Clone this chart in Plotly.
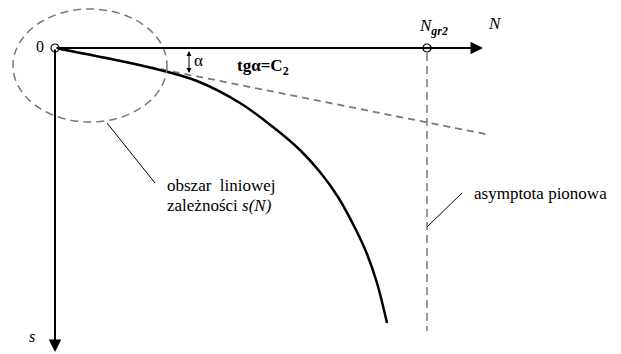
import plotly.graph_objects as go

# ---- data (diagram units; N to the right, s downward) ----
curve_N = [0, 50, 95, 142, 185, 218, 245, 265, 283, 300, 312, 322, 332]
curve_s = [0, 9.8, 19.5, 33, 55, 79, 102, 124, 149, 180, 206, 235, 275]
tangent_N = [0, 432]
tangent_s = [0, 86.4]
N_gr2 = 372
asym_s = [5, 283]
axis_N_end = 428
axis_s_end = 304

FONT = "Liberation Serif, Times New Roman, Times, serif"
GRAY = "#7a7a7a"

fig = go.Figure()

# dashed tangent line tg(alpha)=C2
fig.add_trace(go.Scatter(x=tangent_N, y=tangent_s, mode="lines",
                         line=dict(color=GRAY, width=1.8, dash="7px,5px"),
                         hoverinfo="skip"))
# vertical asymptote
fig.add_trace(go.Scatter(x=[N_gr2, N_gr2], y=asym_s, mode="lines",
                         line=dict(color=GRAY, width=1.5, dash="8px,5px"),
                         hoverinfo="skip"))
# main curve s(N)
fig.add_trace(go.Scatter(x=curve_N, y=curve_s, mode="lines",
                         line=dict(color="black", width=2.5, shape="spline", smoothing=1.0),
                         hoverinfo="skip"))

# dashed ellipse: region of linear dependence
fig.add_shape(type="circle", xref="x", yref="y", x0=-42, x1=112, y0=-39, y1=74,
              line=dict(color=GRAY, width=1.5, dash="8px,5px"))

# leader lines
fig.add_shape(type="line", xref="x", yref="y", x0=52, y0=75, x1=100, y1=135,
              line=dict(color="black", width=1))
fig.add_shape(type="line", xref="x", yref="y", x0=407, y0=145, x1=372, y1=179,
              line=dict(color="black", width=1))

# axes with arrows
fig.add_annotation(x=axis_N_end, y=0, ax=0, ay=0, xref="x", yref="y", axref="x", ayref="y",
                   text="", showarrow=True, arrowhead=2, arrowsize=1.25, arrowwidth=2,
                   arrowcolor="black")
fig.add_annotation(x=0, y=axis_s_end, ax=0, ay=0, xref="x", yref="y", axref="x", ayref="y",
                   text="", showarrow=True, arrowhead=2, arrowsize=1.25, arrowwidth=2,
                   arrowcolor="black")

# alpha arc arrow
fig.add_annotation(x=134, y=25, ax=134, ay=1.5, xref="x", yref="y", axref="x", ayref="y",
                   text="", showarrow=True, arrowhead=2, arrowside="end+start",
                   arrowsize=1, arrowwidth=1, arrowcolor="black")

# open circles at 0 and N_gr2
fig.add_trace(go.Scatter(x=[0, N_gr2], y=[0, 0], mode="markers",
                         marker=dict(size=8, color="white", line=dict(color="black", width=1.2)),
                         hoverinfo="skip"))

# labels
def label(x, y, text, size=17, xanchor="center"):
    fig.add_annotation(x=x, y=y, xref="x", yref="y", text=text, showarrow=False,
                       xanchor=xanchor, yanchor="middle",
                       font=dict(family=FONT, size=size, color="black"))

label(-15, -2, "0", 16)
label(440, -25, "<i>N</i>", 17)
label(362, -21, "<i>N</i><sub><b><i>gr2</i></b></sub>", 17, xanchor="left")
label(-23, 288, "<i>s</i>", 16)
label(143, 12, "α", 17)
label(180, 19, "<b>tgα=C<sub>2</sub></b>", 17, xanchor="left")
label(110, 137, "obszar&nbsp; liniowej", 17, xanchor="left")
label(110, 157, "zależności <i>s(N)</i>", 17, xanchor="left")
label(417, 145, "asymptota pionowa", 17, xanchor="left")

fig.update_layout(
    width=621, height=354,
    margin=dict(l=0, r=0, t=0, b=0),
    paper_bgcolor="white", plot_bgcolor="white",
    showlegend=False,
    font=dict(family=FONT),
    xaxis=dict(range=[-55, 566], visible=False, fixedrange=True),
    yaxis=dict(range=[306, -48], visible=False, fixedrange=True),
)

fig.write_html("out.html",
               config={"displayModeBar": False, "staticPlot": True},
               post_script="document.body.style.margin='0';document.body.style.overflow='hidden';")
